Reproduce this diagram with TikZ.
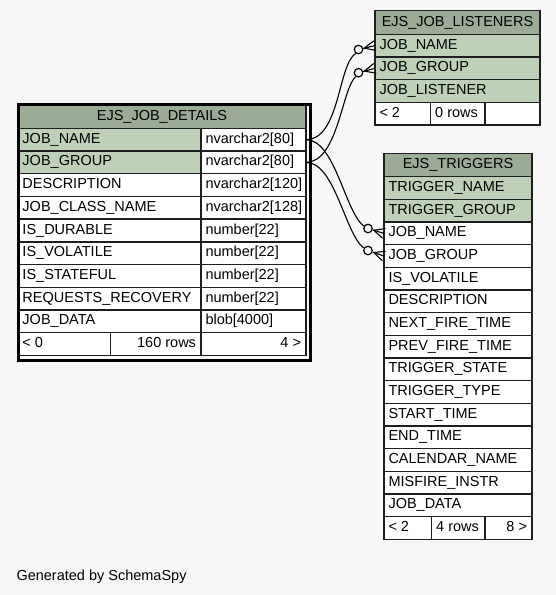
\documentclass[tikz,border=0pt]{standalone}
\usepackage{fontspec}
\setmainfont{Liberation Sans}
\usetikzlibrary{calc}
\definecolor{bg}{HTML}{F7F7F7}
\definecolor{hd}{HTML}{9BAB96}
\definecolor{pk}{HTML}{BED1B8}
\definecolor{ln}{HTML}{1E1E1E}
\tikzset{
  cellbox/.style={draw=ln, line width=1.4pt, inner sep=0pt, outer sep=0pt, anchor=north west},
  lbl/.style={inner sep=0pt, outer sep=0pt, font=\fontsize{14.5}{16}\selectfont},
  edgeline/.style={draw=black, line width=1.1pt},
  ring/.style={circle, draw=black, line width=1.2pt, fill=bg, minimum size=8.5pt, inner sep=0pt},
}
% #1 name, #2 x1, #3 y1, #4 x2, #5 y2, #6 fill, #7 align l/r/c/n, #8 text
\newcommand\tcell[8]{%
  \pgfmathsetmacro\cw{#4-#2}\pgfmathsetmacro\ch{#5-#3}%
  \node[cellbox, fill=#6, minimum width=\cw pt, minimum height=\ch pt] (#1) at (#2,#3) {};
  \ifx l#7\node[lbl, anchor=base west] (#1-t) at ($(#1.south west)+(4.5,-7.8)$) {#8};\fi
  \ifx r#7\node[lbl, anchor=base east] (#1-t) at ($(#1.south east)+(-5,-7.8)$) {#8};\fi
  \ifx c#7\node[lbl, anchor=base] (#1-t) at ($(#1.south)+(0,-8.2)$) {#8};\fi
}
\newcommand\crowfoot[2]{%
  \draw[edgeline] (#1) -- (#2);
  \draw[edgeline] ($(#1)!6pt!(#2)$) -- ($(#2)!5pt!90:(#1)$);
  \draw[edgeline] ($(#1)!6pt!(#2)$) -- ($(#2)!5pt!-90:(#1)$);
}
\begin{document}
\begin{tikzpicture}[x=1pt,y=-1pt]
\fill[bg] (0,0) rectangle (556,595);
\useasboundingbox (0,0) rectangle (556,595);

% ---------- EJS_JOB_DETAILS ----------
\tcell{d-h}{18}{105}{306}{128.3}{hd}{c}{EJS\_JOB\_DETAILS}
\foreach \n/\ty/\f [count=\i from 0] in {
  JOB\_NAME/nvarchar2[80]/pk,
  JOB\_GROUP/nvarchar2[80]/pk,
  DESCRIPTION/nvarchar2[120]/white,
  JOB\_CLASS\_NAME/nvarchar2[128]/white,
  IS\_DURABLE/number[22]/white,
  IS\_VOLATILE/number[22]/white,
  IS\_STATEFUL/number[22]/white,
  REQUESTS\_RECOVERY/number[22]/white,
  JOB\_DATA/blob[4000]/white}{
  \pgfmathsetmacro\ya{128.3+22.7*\i}\pgfmathsetmacro\yb{\ya+22.7}
  \tcell{d-\i-a}{18}{\ya}{201}{\yb}{\f}{l}{\n}
  \tcell{d-\i-b}{201}{\ya}{306}{\yb}{white}{l}{\ty}
}
\tcell{d-f1}{18}{332.6}{110.7}{355.3}{white}{l}{< 0}
\tcell{d-f2}{110.7}{332.6}{201}{355.3}{white}{r}{160 rows}
\tcell{d-f3}{201}{332.6}{306}{355.3}{white}{r}{4 >}
\node[draw=black, line width=3pt, inner sep=0pt, minimum width=292pt, minimum height=256pt, anchor=north west] (dframe) at (16.5,102.5) {};

% ---------- EJS_JOB_LISTENERS ----------
\tcell{l-h}{375}{10.7}{540}{34.3}{hd}{c}{EJS\_JOB\_LISTENERS}
\foreach \n [count=\i from 0] in {JOB\_NAME, JOB\_GROUP, JOB\_LISTENER}{
  \pgfmathsetmacro\ya{34.3+22.67*\i}\pgfmathsetmacro\yb{\ya+22.67}
  \tcell{l-\i}{375}{\ya}{540}{\yb}{pk}{l}{\n}
}
\tcell{l-f1}{375}{102.3}{430.7}{125}{white}{l}{< 2}
\tcell{l-f2}{430.7}{102.3}{485}{125}{white}{l}{0 rows}
\tcell{l-f3}{485}{102.3}{540}{125}{white}{n}{}

% ---------- EJS_TRIGGERS ----------
\tcell{t-h}{384}{153.3}{532}{176.7}{hd}{c}{EJS\_TRIGGERS}
\foreach \n/\f [count=\i from 0] in {
  TRIGGER\_NAME/pk, TRIGGER\_GROUP/pk, JOB\_NAME/white, JOB\_GROUP/white,
  IS\_VOLATILE/white, DESCRIPTION/white, NEXT\_FIRE\_TIME/white,
  PREV\_FIRE\_TIME/white, TRIGGER\_STATE/white, TRIGGER\_TYPE/white,
  START\_TIME/white, END\_TIME/white, CALENDAR\_NAME/white,
  MISFIRE\_INSTR/white, JOB\_DATA/white}{
  \pgfmathsetmacro\ya{176.7+22.67*\i}\pgfmathsetmacro\yb{\ya+22.67}
  \tcell{t-\i}{384}{\ya}{532}{\yb}{\f}{l}{\n}
}
\tcell{t-f1}{384}{516.7}{431.7}{539.3}{white}{l}{< 2}
\tcell{t-f2}{431.7}{516.7}{485}{539.3}{white}{l}{4 rows}
\tcell{t-f3}{485}{516.7}{532}{539.3}{white}{r}{8 >}

% ---------- connectors ----------
\node[ring] (r1) at (358.5,49.5) {};
\node[ring] (r2) at (358.5,72.7) {};
\node[ring] (r3) at (368,228.5) {};
\node[ring] (r4) at (368,250.5) {};
\draw[edgeline] (d-0-b.east) .. controls (340,139.65) and (338,64) .. (r1.235);
\draw[edgeline] (d-1-b.east) .. controls (338,162.3) and (342,88) .. (r2.235);
\draw[edgeline] (d-0-b.east) .. controls (335,139.65) and (345,212) .. (r3.150);
\draw[edgeline] (d-1-b.east) .. controls (335,162.3) and (345,234) .. (r4.150);
\crowfoot{r1}{l-0.west}
\crowfoot{r2}{l-1.west}
\crowfoot{r3}{t-2.west}
\crowfoot{r4}{t-3.west}

\node[lbl, anchor=base west] (gen) at (16.5,580) {Generated by SchemaSpy};
\end{tikzpicture}
\end{document}
